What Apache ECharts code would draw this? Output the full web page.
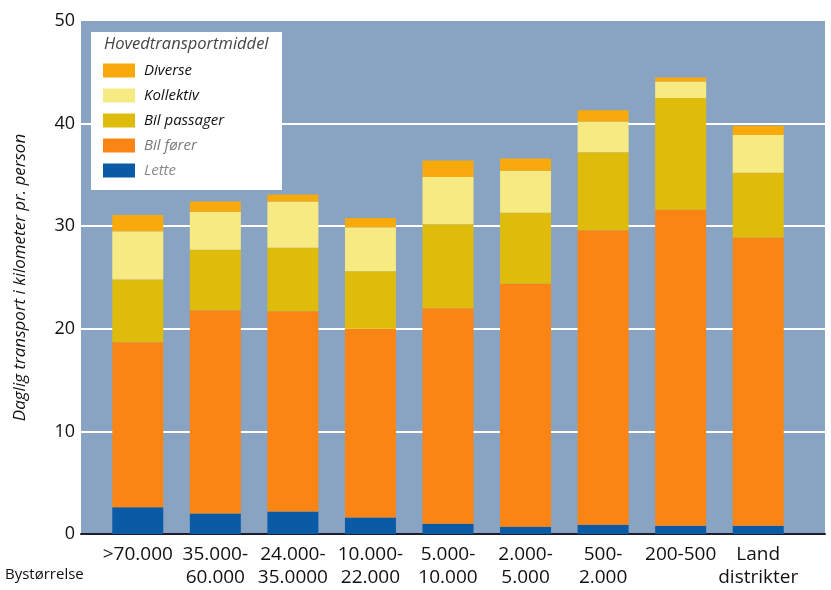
<!DOCTYPE html>
<html>
<head>
<meta charset="utf-8">
<script src="https://cdn.jsdelivr.net/npm/echarts@6/dist/echarts.min.js"></script>
<style>
  html, body { margin: 0; padding: 0; background: #ffffff; }
  #chart { width: 831px; height: 590px; }
</style>
</head>
<body>
<div id="chart"></div>
<script>
// Town-size classes (two-line labels)
const categories = [
  '>70.000', '35.000-\n60.000', '24.000-\n35.0000', '10.000-\n22.000',
  '5.000-\n10.000', '2.000-\n5.000', '500-\n2.000', '200-500', 'Land\ndistrikter'
];

// Daily km per person by main mode of transport
const lette        = [2.6, 2.0, 2.2, 1.6, 1.0, 0.7, 0.9, 0.8, 0.8];
const bilForer     = [16.1, 19.8, 19.5, 18.4, 21.0, 23.7, 28.7, 30.8, 28.1];
const bilPassager  = [6.1, 5.9, 6.2, 5.6, 8.2, 6.9, 7.6, 10.9, 6.3];
const kollektiv    = [4.7, 3.7, 4.5, 4.3, 4.6, 4.1, 3.0, 1.6, 3.7];
const diverse      = [1.6, 1.0, 0.7, 0.9, 1.6, 1.2, 1.1, 0.4, 0.9];

const yTicks = [0, 10, 20, 30, 40, 50];

const FONT = '"Open Sans", "Noto Sans", sans-serif';
const COLORS = {
  'Lette': '#0b5aa6',
  'Bil fører': '#fb8514',
  'Bil passager': '#dfbb0c',
  'Kollektiv': '#f8ea82',
  'Diverse': '#f8a90c'
};

function barSeries(name, data) {
  return {
    name: name,
    type: 'bar',
    stack: 'total',
    xAxisIndex: 1,
    yAxisIndex: 1,
    barWidth: 51,
    data: data,
    itemStyle: { color: COLORS[name] },
    emphasis: { disabled: true }
  };
}

const chart = echarts.init(document.getElementById('chart'), null, { renderer: 'canvas' });

chart.setOption({
  animation: false,
  textStyle: { fontFamily: FONT },
  grid: [
    { left: 81, right: 6, top: 21, bottom: 56, show: true, backgroundColor: '#88a4c2', borderWidth: 0 },
    { left: 99, right: 34, top: 21, bottom: 56 }
  ],
  xAxis: [
    {
      gridIndex: 0, type: 'value', min: 0, max: 1,
      axisLine: { show: true, lineStyle: { color: '#1d1d2b', width: 2 } },
      axisTick: { show: false }, axisLabel: { show: false }, splitLine: { show: false }
    },
    {
      gridIndex: 1, type: 'category', data: categories,
      axisLine: { show: false }, axisTick: { show: false },
      axisLabel: {
        interval: 0, margin: 9, color: '#111', fontSize: 19, lineHeight: 23,
        fontFamily: FONT
      }
    }
  ],
  yAxis: [
    {
      gridIndex: 0, type: 'value', min: yTicks[0], max: yTicks[yTicks.length - 1], interval: 10,
      name: 'Daglig transport i kilometer pr. person',
      nameLocation: 'middle', nameGap: 52,
      nameTextStyle: { fontStyle: 'italic', fontSize: 17, color: '#111', fontFamily: FONT },
      axisLine: { show: false }, axisTick: { show: false },
      axisLabel: { color: '#111', fontSize: 18, margin: 6, fontFamily: FONT },
      splitLine: { show: true, showMinLine: false, showMaxLine: false, lineStyle: { color: '#ffffff', width: 2 } }
    },
    {
      gridIndex: 1, type: 'value', min: 0, max: 50, show: false,
      splitLine: { show: false }
    }
  ],
  legend: {
    orient: 'vertical',
    left: 103, top: 63, z: 6, padding: 0,
    itemWidth: 32, itemHeight: 14, itemGap: 10,
    icon: 'rect',
    selectedMode: false,
    textStyle: { fontSize: 15, fontStyle: 'italic', lineHeight: 14, color: '#111', padding: [0, 0, 0, 4], fontFamily: FONT },
    data: [
      { name: 'Diverse' },
      { name: 'Kollektiv' },
      { name: 'Bil passager' },
      { name: 'Bil fører', textStyle: { color: '#7a7a7a' } },
      { name: 'Lette', textStyle: { color: '#8a8a8a' } }
    ]
  },
  graphic: [
    {
      type: 'rect', z: 5,
      shape: { x: 91, y: 32, width: 191, height: 158 },
      style: { fill: '#ffffff' }
    },
    {
      type: 'text', z: 7, left: 104, top: 36,
      style: { text: 'Hovedtransportmiddel', fill: '#444', font: 'italic 16.5px ' + FONT }
    },
    {
      type: 'text', z: 7, left: 5, top: 567,
      style: { text: 'Bystørrelse', fill: '#111', font: '15px ' + FONT }
    }
  ],
  series: [
    barSeries('Lette', lette),
    barSeries('Bil fører', bilForer),
    barSeries('Bil passager', bilPassager),
    barSeries('Kollektiv', kollektiv),
    barSeries('Diverse', diverse)
  ]
});
</script>
</body>
</html>
